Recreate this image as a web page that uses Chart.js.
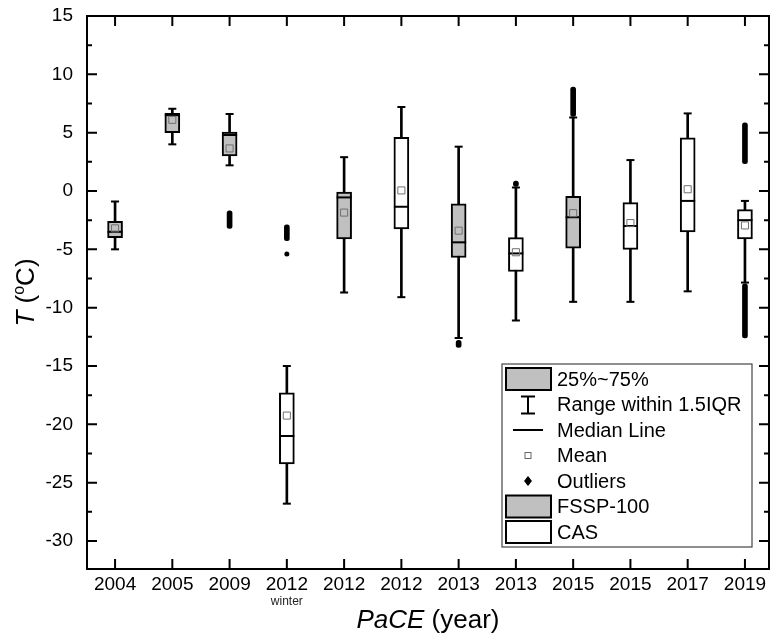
<!DOCTYPE html>
<html>
<head>
<meta charset="utf-8">
<script src="https://cdn.jsdelivr.net/npm/chart.js@4.4.0/dist/chart.umd.min.js"></script>
<style>
  html, body { margin: 0; padding: 0; background: #fff; overflow: hidden; }
  canvas { display: block; }
</style>
</head>
<body>
<canvas id="chBox" width="771" height="641"></canvas>
<script>
/* PaCE temperature box plots */

// categories (one box each) and the instrument that measured it
var years = ['2004', '2005', '2009', '2012', '2012', '2012', '2013', '2013', '2015', '2015', '2017', '2019'];
var instrument = ['FSSP', 'FSSP', 'FSSP', 'CAS', 'FSSP', 'CAS', 'FSSP', 'CAS', 'FSSP', 'CAS', 'CAS', 'CAS'];

// box statistics, T in degC
var whiskerLow  = [-5.0, 4.0, 2.2, -26.8, -8.7, -9.1, -12.6, -11.1, -9.5, -9.5, -8.6, -7.85];
var q1          = [-4.0, 5.0, 3.0, -23.4, -4.1, -3.25, -5.7, -6.9, -4.9, -5.0, -3.5, -4.1];
var median      = [-3.5, 6.5, 4.8, -21.0, -0.55, -1.35, -4.4, -5.35, -2.25, -3.0, -0.85, -2.5];
var q3          = [-2.6, 6.65, 5.05, -17.3, -0.1, 4.6, -1.1, -4.0, -0.45, -1.0, 4.55, -1.6];
var whiskerHigh = [-0.9, 7.05, 6.6, -15.0, 2.9, 7.2, 3.8, 0.3, 6.3, 2.65, 6.65, -0.85];
var mean        = [-3.2, 6.1, 3.65, -19.25, -1.85, 0.05, -3.4, -5.25, -1.9, -2.75, 0.15, -2.95];

// outliers: dense runs (box number, top, bottom) and single points
var outlierBox    = [3, 4, 7, 8, 9, 12, 12];
var outlierTop    = [-1.7, -2.9, -12.8, 0.85, 8.9, 5.85, -7.95];
var outlierBottom = [-3.2, -4.25, -13.4, 0.4, 6.4, 2.35, -12.6];
var singleBox = [4];
var singleVal = [-5.4];

// y axis
var yTicks = [-30, -25, -20, -15, -10, -5, 0, 5, 10, 15];
var yMin = -32.4, yMax = 15;

var gray = '#c0c0c0';
var fontName = '"Liberation Sans", Arial, sans-serif';

function pts(vals) {
  return vals.map(function (v, i) { return {x: i + 1, y: v}; });
}
function boxes(kind) {
  return years.map(function (_, i) {
    return instrument[i] === kind ? {x: i + 1, y: [q1[i], q3[i]]} : null;
  }).filter(Boolean);
}

// frame with inward ticks, axis titles and the legend box
var decorPlugin = {
  id: 'decor',
  afterDraw: function (chart) {
    var ctx = chart.ctx, a = chart.chartArea, sx = chart.scales.x, sy = chart.scales.y;
    ctx.save();
    ctx.strokeStyle = '#000';
    ctx.lineWidth = 2;
    ctx.strokeRect(a.left, a.top, a.right - a.left, a.bottom - a.top);
    ctx.beginPath();
    yTicks.forEach(function (v) {
      var p = sy.getPixelForValue(v);
      ctx.moveTo(a.left, p); ctx.lineTo(a.left + 10, p);
      ctx.moveTo(a.right, p); ctx.lineTo(a.right - 10, p);
      var m = sy.getPixelForValue(v + 2.5);
      if (m > a.top + 2) {
        ctx.moveTo(a.left, m); ctx.lineTo(a.left + 5, m);
        ctx.moveTo(a.right, m); ctx.lineTo(a.right - 5, m);
      }
    });
    years.forEach(function (_, i) {
      var p = sx.getPixelForValue(i + 1);
      ctx.moveTo(p, a.bottom); ctx.lineTo(p, a.bottom - 10);
      ctx.moveTo(p, a.top); ctx.lineTo(p, a.top + 10);
    });
    ctx.stroke();

    // "winter" under the first 2012
    ctx.fillStyle = '#222';
    ctx.font = '12px ' + fontName;
    ctx.textAlign = 'center';
    ctx.textBaseline = 'alphabetic';
    ctx.fillText('winter', sx.getPixelForValue(4), a.bottom + 36);

    // x title
    ctx.fillStyle = '#000';
    var xParts = [['PaCE', 'italic 26px '], [' (year)', '26px ']];
    drawParts(ctx, xParts, (a.left + a.right) / 2, a.bottom + 59);

    // y title, rotated
    ctx.save();
    ctx.translate(34, (a.top + a.bottom) / 2);
    ctx.rotate(-Math.PI / 2);
    drawParts(ctx, [['T', 'italic 26px '], [' (', '26px '], ['o', '16px ', -10], ['C)', '26px ']], 0, 0);
    ctx.restore();

    // legend
    var L = a.right - 267, T = a.bottom - 205, W = 250, H = 183;
    ctx.fillStyle = '#fff';
    ctx.fillRect(L, T, W, H);
    ctx.lineWidth = 1.2;
    ctx.strokeStyle = '#444';
    ctx.strokeRect(L, T, W, H);
    var rows = ['25%~75%', 'Range within 1.5IQR', 'Median Line', 'Mean', 'Outliers', 'FSSP-100', 'CAS'];
    var sym = L + 26;
    ctx.font = '20px ' + fontName;
    ctx.textAlign = 'left';
    ctx.textBaseline = 'middle';
    rows.forEach(function (r, k) {
      var cy = T + 15 + k * 25.5;
      ctx.fillStyle = '#000';
      ctx.fillText(r, L + 55, cy + 1);
      ctx.strokeStyle = '#000';
      ctx.lineWidth = 2;
      if (k === 0 || k === 5 || k === 6) {
        ctx.fillStyle = k === 6 ? '#fff' : gray;
        ctx.fillRect(L + 4, cy - 11, 45, 22);
        ctx.strokeRect(L + 4, cy - 11, 45, 22);
      } else if (k === 1) {
        ctx.beginPath();
        ctx.moveTo(sym, cy - 8); ctx.lineTo(sym, cy + 9);
        ctx.moveTo(sym - 7, cy - 8); ctx.lineTo(sym + 7, cy - 8);
        ctx.moveTo(sym - 7, cy + 9); ctx.lineTo(sym + 7, cy + 9);
        ctx.stroke();
      } else if (k === 2) {
        ctx.beginPath();
        ctx.moveTo(sym - 15, cy); ctx.lineTo(sym + 15, cy);
        ctx.stroke();
      } else if (k === 3) {
        ctx.lineWidth = 1;
        ctx.strokeStyle = '#666';
        ctx.strokeRect(sym - 3, cy - 3, 6, 6);
      } else if (k === 4) {
        ctx.fillStyle = '#000';
        ctx.beginPath();
        ctx.moveTo(sym, cy - 5); ctx.lineTo(sym + 4, cy);
        ctx.lineTo(sym, cy + 5); ctx.lineTo(sym - 4, cy);
        ctx.closePath();
        ctx.fill();
      }
    });
    ctx.restore();
  }
};

// draw text runs with mixed fonts centred on x
function drawParts(ctx, parts, cx, baseY) {
  var total = 0;
  parts.forEach(function (p) { ctx.font = p[1] + fontName; total += ctx.measureText(p[0]).width; });
  var x = cx - total / 2;
  ctx.textAlign = 'left';
  ctx.textBaseline = 'alphabetic';
  parts.forEach(function (p) {
    ctx.font = p[1] + fontName;
    ctx.fillText(p[0], x, baseY + (p[2] || 0));
    x += ctx.measureText(p[0]).width;
  });
}

var ctxEl = document.getElementById('chBox');
new Chart(ctxEl, {
  type: 'bar',
  data: {
    datasets: [
      {
        label: 'whisker', type: 'bar', order: 5, grouped: false,
        data: years.map(function (_, i) { return {x: i + 1, y: [whiskerLow[i], whiskerHigh[i]]}; }),
        backgroundColor: '#000', barThickness: 2, borderSkipped: false
      },
      {
        label: 'outliers', type: 'bar', order: 4, grouped: false,
        data: outlierBox.map(function (b, k) { return {x: b, y: [outlierBottom[k], outlierTop[k]]}; }),
        backgroundColor: '#000', barThickness: 5, borderRadius: 2.5, borderSkipped: false
      },
      {
        label: 'FSSP-100', type: 'bar', order: 3, grouped: false,
        data: boxes('FSSP'),
        backgroundColor: gray, borderColor: '#000', borderWidth: 2, barThickness: 15, borderSkipped: false
      },
      {
        label: 'CAS', type: 'bar', order: 3, grouped: false,
        data: boxes('CAS'),
        backgroundColor: '#fff', borderColor: '#000', borderWidth: 2, barThickness: 15, borderSkipped: false
      },
      {
        label: 'caps', type: 'scatter', order: 2,
        data: pts(whiskerLow).concat(pts(whiskerHigh)),
        pointStyle: 'line', radius: 4, borderWidth: 2, borderColor: '#000'
      },
      {
        label: 'median', type: 'scatter', order: 2,
        data: pts(median),
        pointStyle: 'line', radius: 7.5, borderWidth: 2, borderColor: '#000'
      },
      {
        label: 'mean', type: 'scatter', order: 1,
        data: pts(mean),
        pointStyle: 'rect', radius: 5, borderWidth: 1, borderColor: '#707070', backgroundColor: 'rgba(0,0,0,0)'
      },
      {
        label: 'single outliers', type: 'scatter', order: 1,
        data: singleBox.map(function (b, k) { return {x: b, y: singleVal[k]}; }),
        pointStyle: 'circle', radius: 2.5, borderWidth: 0, backgroundColor: '#000'
      }
    ]
  },
  options: {
    responsive: false,
    animation: false,
    events: [],
    layout: {autoPadding: false, padding: {top: 16, right: 2, left: 0, bottom: 0}},
    plugins: {legend: {display: false}, tooltip: {enabled: false}},
    scales: {
      x: {
        type: 'linear', offset: false, min: 0.51, max: 12.42,
        grid: {display: false, drawTicks: false}, border: {display: false},
        afterBuildTicks: function (s) { s.ticks = years.map(function (_, i) { return {value: i + 1}; }); },
        afterFit: function (s) { s.height = 72; s.paddingLeft = 0; s.paddingRight = 0; },
        ticks: {
          autoSkip: false, maxRotation: 0, padding: 4, color: '#000',
          font: {family: fontName, size: 19},
          callback: function (v) { return years[v - 1]; }
        }
      },
      y: {
        type: 'linear', min: yMin, max: yMax,
        grid: {display: false, drawTicks: false}, border: {display: false},
        afterBuildTicks: function (s) { s.ticks = yTicks.map(function (v) { return {value: v}; }); },
        afterFit: function (s) { s.width = 87; s.paddingTop = 0; s.paddingBottom = 0; },
        ticks: {padding: 14, color: '#000', font: {family: fontName, size: 19}}
      }
    }
  },
  plugins: [decorPlugin]
});
</script>
</body>
</html>
